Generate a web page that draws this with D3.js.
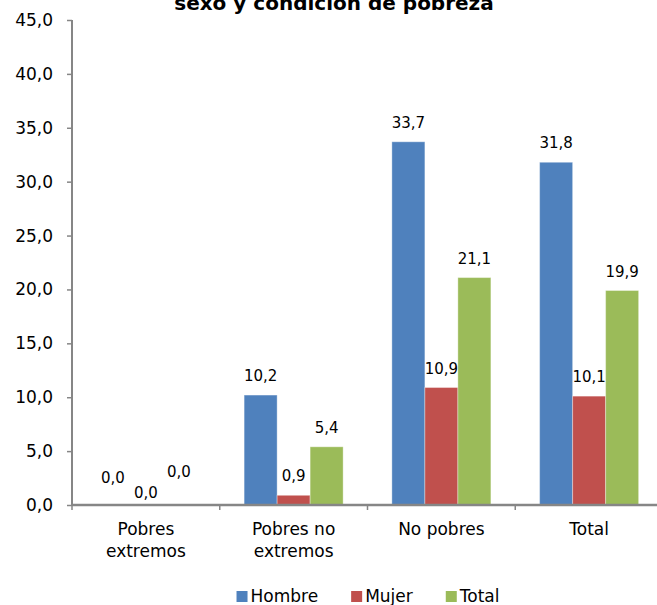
<!DOCTYPE html>
<html>
<head>
<meta charset="utf-8">
<script src="https://cdn.jsdelivr.net/npm/d3@7"></script>
<style>
  html, body { margin: 0; padding: 0; background: #fff; }
  svg { display: block; font-family: Verdana, "DejaVu Sans", sans-serif; }
</style>
</head>
<body>
<svg id="chart" width="657" height="605"></svg>
<script>
// ---- data ----
const title = "sexo y condición de pobreza";
const categories = ["Pobres extremos", "Pobres no extremos", "No pobres", "Total"];
const categoryLines = [["Pobres", "extremos"], ["Pobres no", "extremos"], ["No pobres"], ["Total"]];
const seriesNames = ["Hombre", "Mujer", "Total"];
const hombre = [0.0, 10.2, 33.7, 31.8];
const mujer = [0.0, 0.9, 10.9, 10.1];
const total = [0.0, 5.4, 21.1, 19.9];
const yTicks = [0, 5, 10, 15, 20, 25, 30, 35, 40, 45];
const colors = ["#4F81BD", "#C0504D", "#9BBB59"];
// lift of the zero-value labels (as staggered in the original)
const zeroLabelLift = [22, 7, 28];

const series = [hombre, mujer, total];

// ---- layout ----
const svg = d3.select("#chart");
const plotLeft = 72, plotRight = 663, plotTop = 20, plotBottom = 505;
const axisColor = "#868686";
const fmt = d => d.toFixed(1).replace(".", ",");

const y = d3.scaleLinear().domain([0, 45]).range([plotBottom, plotTop]);
const x0 = d3.scaleBand().domain(categories).range([plotLeft, plotRight])
  .paddingInner(0.33).paddingOuter(0.165);
const x1 = d3.scaleBand().domain(seriesNames).range([0, x0.bandwidth()]);

// title (partly cut at top, as in the reference)
svg.append("text")
  .attr("x", 334).attr("y", 10)
  .attr("text-anchor", "middle")
  .attr("font-weight", "bold")
  .attr("font-size", 20)
  .attr("fill", "#000")
  .text(title);

// bars
const groups = svg.append("g").selectAll("g")
  .data(categories)
  .join("g")
  .attr("transform", d => `translate(${x0(d)},0)`);

groups.selectAll("rect")
  .data((c, ci) => seriesNames.map((s, si) => ({ s, si, v: series[si][ci] })))
  .join("rect")
  .attr("x", d => x1(d.s))
  .attr("y", d => y(d.v))
  .attr("width", x1.bandwidth())
  .attr("height", d => y(0) - y(d.v))
  .attr("fill", d => colors[d.si])
  .attr("stroke", "rgba(255,255,255,0.35)")
  .attr("stroke-width", 1);

// data labels
groups.selectAll("text.lbl")
  .data((c, ci) => seriesNames.map((s, si) => ({ s, si, v: series[si][ci] })))
  .join("text")
  .attr("class", "lbl")
  .attr("x", d => x1(d.s) + x1.bandwidth() / 2)
  .attr("y", d => y(d.v) - (d.v === 0 ? zeroLabelLift[d.si] : 14))
  .attr("text-anchor", "middle")
  .attr("font-size", 15)
  .attr("fill", "#000")
  .text(d => fmt(d.v));

// y axis
const yAxis = svg.append("g")
  .attr("transform", `translate(${plotLeft},0)`)
  .call(d3.axisLeft(y).tickValues(yTicks).tickFormat(fmt).tickSize(5).tickPadding(14));
yAxis.select(".domain").remove();
yAxis.selectAll(".tick line").attr("stroke", axisColor).attr("stroke-width", 1.5);
yAxis.selectAll(".tick text").attr("font-size", 17).attr("fill", "#000")
  .attr("font-family", 'Verdana, "DejaVu Sans", sans-serif');
yAxis.append("line")
  .attr("x1", 0).attr("x2", 0).attr("y1", plotTop).attr("y2", plotBottom)
  .attr("stroke", axisColor).attr("stroke-width", 2);

// x axis
const xAxis = svg.append("g");
xAxis.append("line")
  .attr("x1", plotLeft).attr("x2", plotRight).attr("y1", plotBottom).attr("y2", plotBottom)
  .attr("stroke", axisColor).attr("stroke-width", 2.5);
const start = x0.range()[0];
xAxis.selectAll("line.tk")
  .data(d3.range(categories.length + 1))
  .join("line")
  .attr("class", "tk")
  .attr("x1", i => start + i * x0.step())
  .attr("x2", i => start + i * x0.step())
  .attr("y1", plotBottom).attr("y2", plotBottom + 5)
  .attr("stroke", axisColor).attr("stroke-width", 1.5);

// category labels
const catLabels = xAxis.selectAll("text.cat")
  .data(categories)
  .join("text")
  .attr("class", "cat")
  .attr("text-anchor", "middle")
  .attr("font-size", 17)
  .attr("fill", "#000");
catLabels.each(function (c, i) {
  const t = d3.select(this);
  categoryLines[i].forEach((line, li) => {
    t.append("tspan")
      .attr("x", x0(c) + x0.bandwidth() / 2)
      .attr("y", 535 + li * 22)
      .text(line);
  });
});

// legend
const legend = svg.append("g");
const items = legend.selectAll("g")
  .data(seriesNames)
  .join("g");
items.append("rect")
  .attr("width", 11).attr("height", 11)
  .attr("y", 591)
  .attr("fill", (d, i) => colors[i]);
items.append("text")
  .attr("x", 14).attr("y", 602)
  .attr("font-size", 17)
  .attr("fill", "#000")
  .text(d => d);
const widths = [];
items.each(function () { widths.push(this.getBBox().width); });
const gap = 33;
const totalW = d3.sum(widths) + gap * (widths.length - 1);
let cursor = 368 - totalW / 2;
items.each(function (d, i) {
  d3.select(this).attr("transform", `translate(${cursor},0)`);
  cursor += widths[i] + gap;
});
</script>
</body>
</html>
